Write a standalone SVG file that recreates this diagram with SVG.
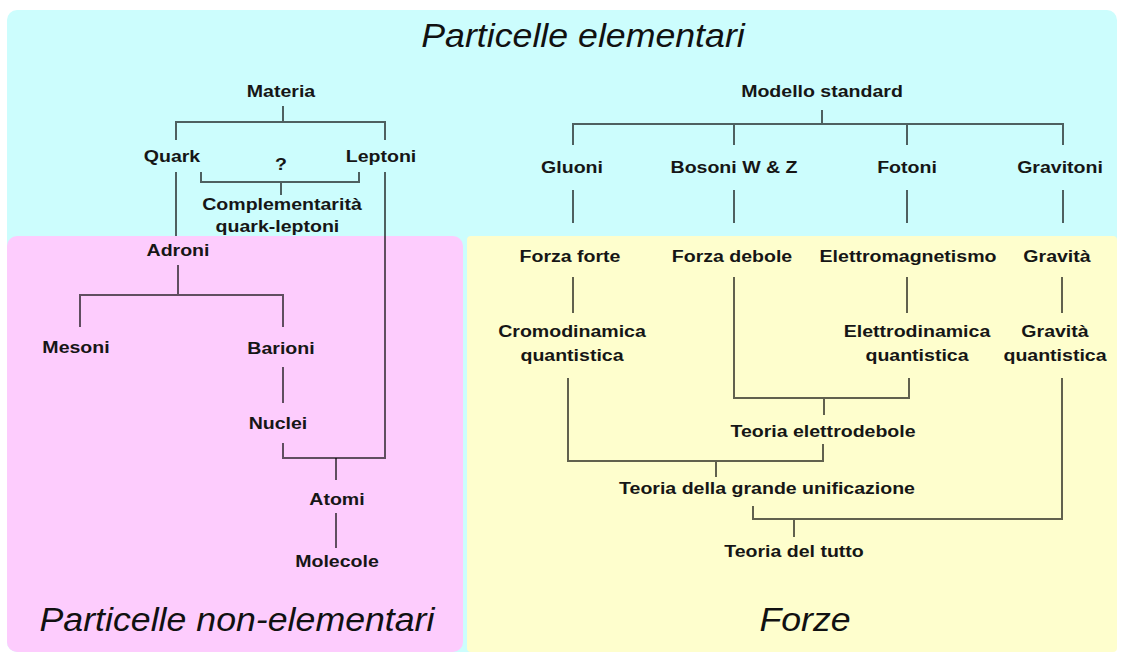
<svg xmlns="http://www.w3.org/2000/svg" width="1122" height="658" viewBox="0 0 1122 658">
<style>
.lbl{font-family:"Liberation Sans",Arial,sans-serif;font-size:17px;font-weight:bold;fill:#161616;text-anchor:middle}
.ttl{font-family:"Liberation Sans",Arial,sans-serif;font-size:34px;font-style:italic;fill:#111;text-anchor:middle}
.cn{fill:none;stroke:#000;stroke-opacity:0.62;stroke-width:2}
</style>
<rect x="0" y="0" width="1122" height="658" fill="#ffffff"/>
<g id="regions">
<rect x="7" y="10" width="1110" height="642" rx="10" fill="#ccfdfd"/>
<rect x="7" y="236" width="456" height="416" rx="10" fill="#fdccfd"/>
<rect x="467" y="236" width="650" height="416" rx="4" fill="#fefecd"/>
</g>
<g id="connectors" class="cn">
<path d="M283,106 V122 M176,140 V122 H385 V140"/>
<path d="M201,172 V182 H359 V172 M281,182 V195"/>
<path d="M176,172 V236"/>
<path d="M385,172 V458 H283 V443"/>
<path d="M178,265 V295 M80,327 V295 H283 V327"/>
<path d="M283,367 V403"/>
<path d="M336,458 V480"/>
<path d="M336,513 V548"/>
<path d="M822,110 V124 M573,145 V124 H1063 V145 M734,124 V145 M907,124 V145"/>
<path d="M573,190 V223 M734,190 V223 M907,190 V223 M1063,190 V223"/>
<path d="M573,277 V313 M907,277 V313 M1062,277 V313"/>
<path d="M734,277 V398 H909 V378 M824,398 V415"/>
<path d="M568,378 V461 H823 V444 M716,461 V477"/>
<path d="M753,506 V519 H1062 V378 M794,519 V537"/>
</g>
<g id="title-elementari" transform="translate(583,47) scale(1.05,1)"><text class="ttl">Particelle elementari</text></g>
<g id="title-non-elementari" transform="translate(237,631) scale(1.05,1)"><text class="ttl">Particelle non-elementari</text></g>
<g id="title-forze" transform="translate(805,631) scale(1.05,1)"><text class="ttl">Forze</text></g>
<g id="n-materia" transform="translate(281,97) scale(1.15,1)"><text class="lbl">Materia</text></g>
<g id="n-quark" transform="translate(172,162) scale(1.15,1)"><text class="lbl">Quark</text></g>
<g id="n-leptoni" transform="translate(381,162) scale(1.15,1)"><text class="lbl">Leptoni</text></g>
<g id="n-q" transform="translate(281,170) scale(1.15,1)"><text class="lbl">?</text></g>
<g id="n-complementarita" transform="translate(282,210) scale(1.15,1)"><text class="lbl">Complementarità</text><text class="lbl" y="22" x="-4">quark-leptoni</text></g>
<g id="n-adroni" transform="translate(178,256) scale(1.15,1)"><text class="lbl">Adroni</text></g>
<g id="n-mesoni" transform="translate(76,353) scale(1.15,1)"><text class="lbl">Mesoni</text></g>
<g id="n-barioni" transform="translate(281,354) scale(1.15,1)"><text class="lbl">Barioni</text></g>
<g id="n-nuclei" transform="translate(278,429) scale(1.15,1)"><text class="lbl">Nuclei</text></g>
<g id="n-atomi" transform="translate(337,505) scale(1.15,1)"><text class="lbl">Atomi</text></g>
<g id="n-molecole" transform="translate(337,567) scale(1.15,1)"><text class="lbl">Molecole</text></g>
<g id="n-modello" transform="translate(822,97) scale(1.15,1)"><text class="lbl">Modello standard</text></g>
<g id="n-gluoni" transform="translate(572,173) scale(1.15,1)"><text class="lbl">Gluoni</text></g>
<g id="n-bosoni" transform="translate(734,173) scale(1.15,1)"><text class="lbl">Bosoni W &amp; Z</text></g>
<g id="n-fotoni" transform="translate(907,173) scale(1.15,1)"><text class="lbl">Fotoni</text></g>
<g id="n-gravitoni" transform="translate(1060,173) scale(1.15,1)"><text class="lbl">Gravitoni</text></g>
<g id="n-forzaforte" transform="translate(570,262) scale(1.15,1)"><text class="lbl">Forza forte</text></g>
<g id="n-forzadebole" transform="translate(732,262) scale(1.15,1)"><text class="lbl">Forza debole</text></g>
<g id="n-elettromagnetismo" transform="translate(908,262) scale(1.15,1)"><text class="lbl">Elettromagnetismo</text></g>
<g id="n-gravita" transform="translate(1057,262) scale(1.15,1)"><text class="lbl">Gravità</text></g>
<g id="n-cromodinamica" transform="translate(572,337) scale(1.15,1)"><text class="lbl">Cromodinamica</text><text class="lbl" y="24">quantistica</text></g>
<g id="n-elettrodinamica" transform="translate(917,337) scale(1.15,1)"><text class="lbl">Elettrodinamica</text><text class="lbl" y="24">quantistica</text></g>
<g id="n-gravitaq" transform="translate(1055,337) scale(1.15,1)"><text class="lbl">Gravità</text><text class="lbl" y="24">quantistica</text></g>
<g id="n-elettrodebole" transform="translate(823,437) scale(1.15,1)"><text class="lbl">Teoria elettrodebole</text></g>
<g id="n-gut" transform="translate(767,494) scale(1.15,1)"><text class="lbl">Teoria della grande unificazione</text></g>
<g id="n-tutto" transform="translate(794,557) scale(1.15,1)"><text class="lbl">Teoria del tutto</text></g>
</svg>
